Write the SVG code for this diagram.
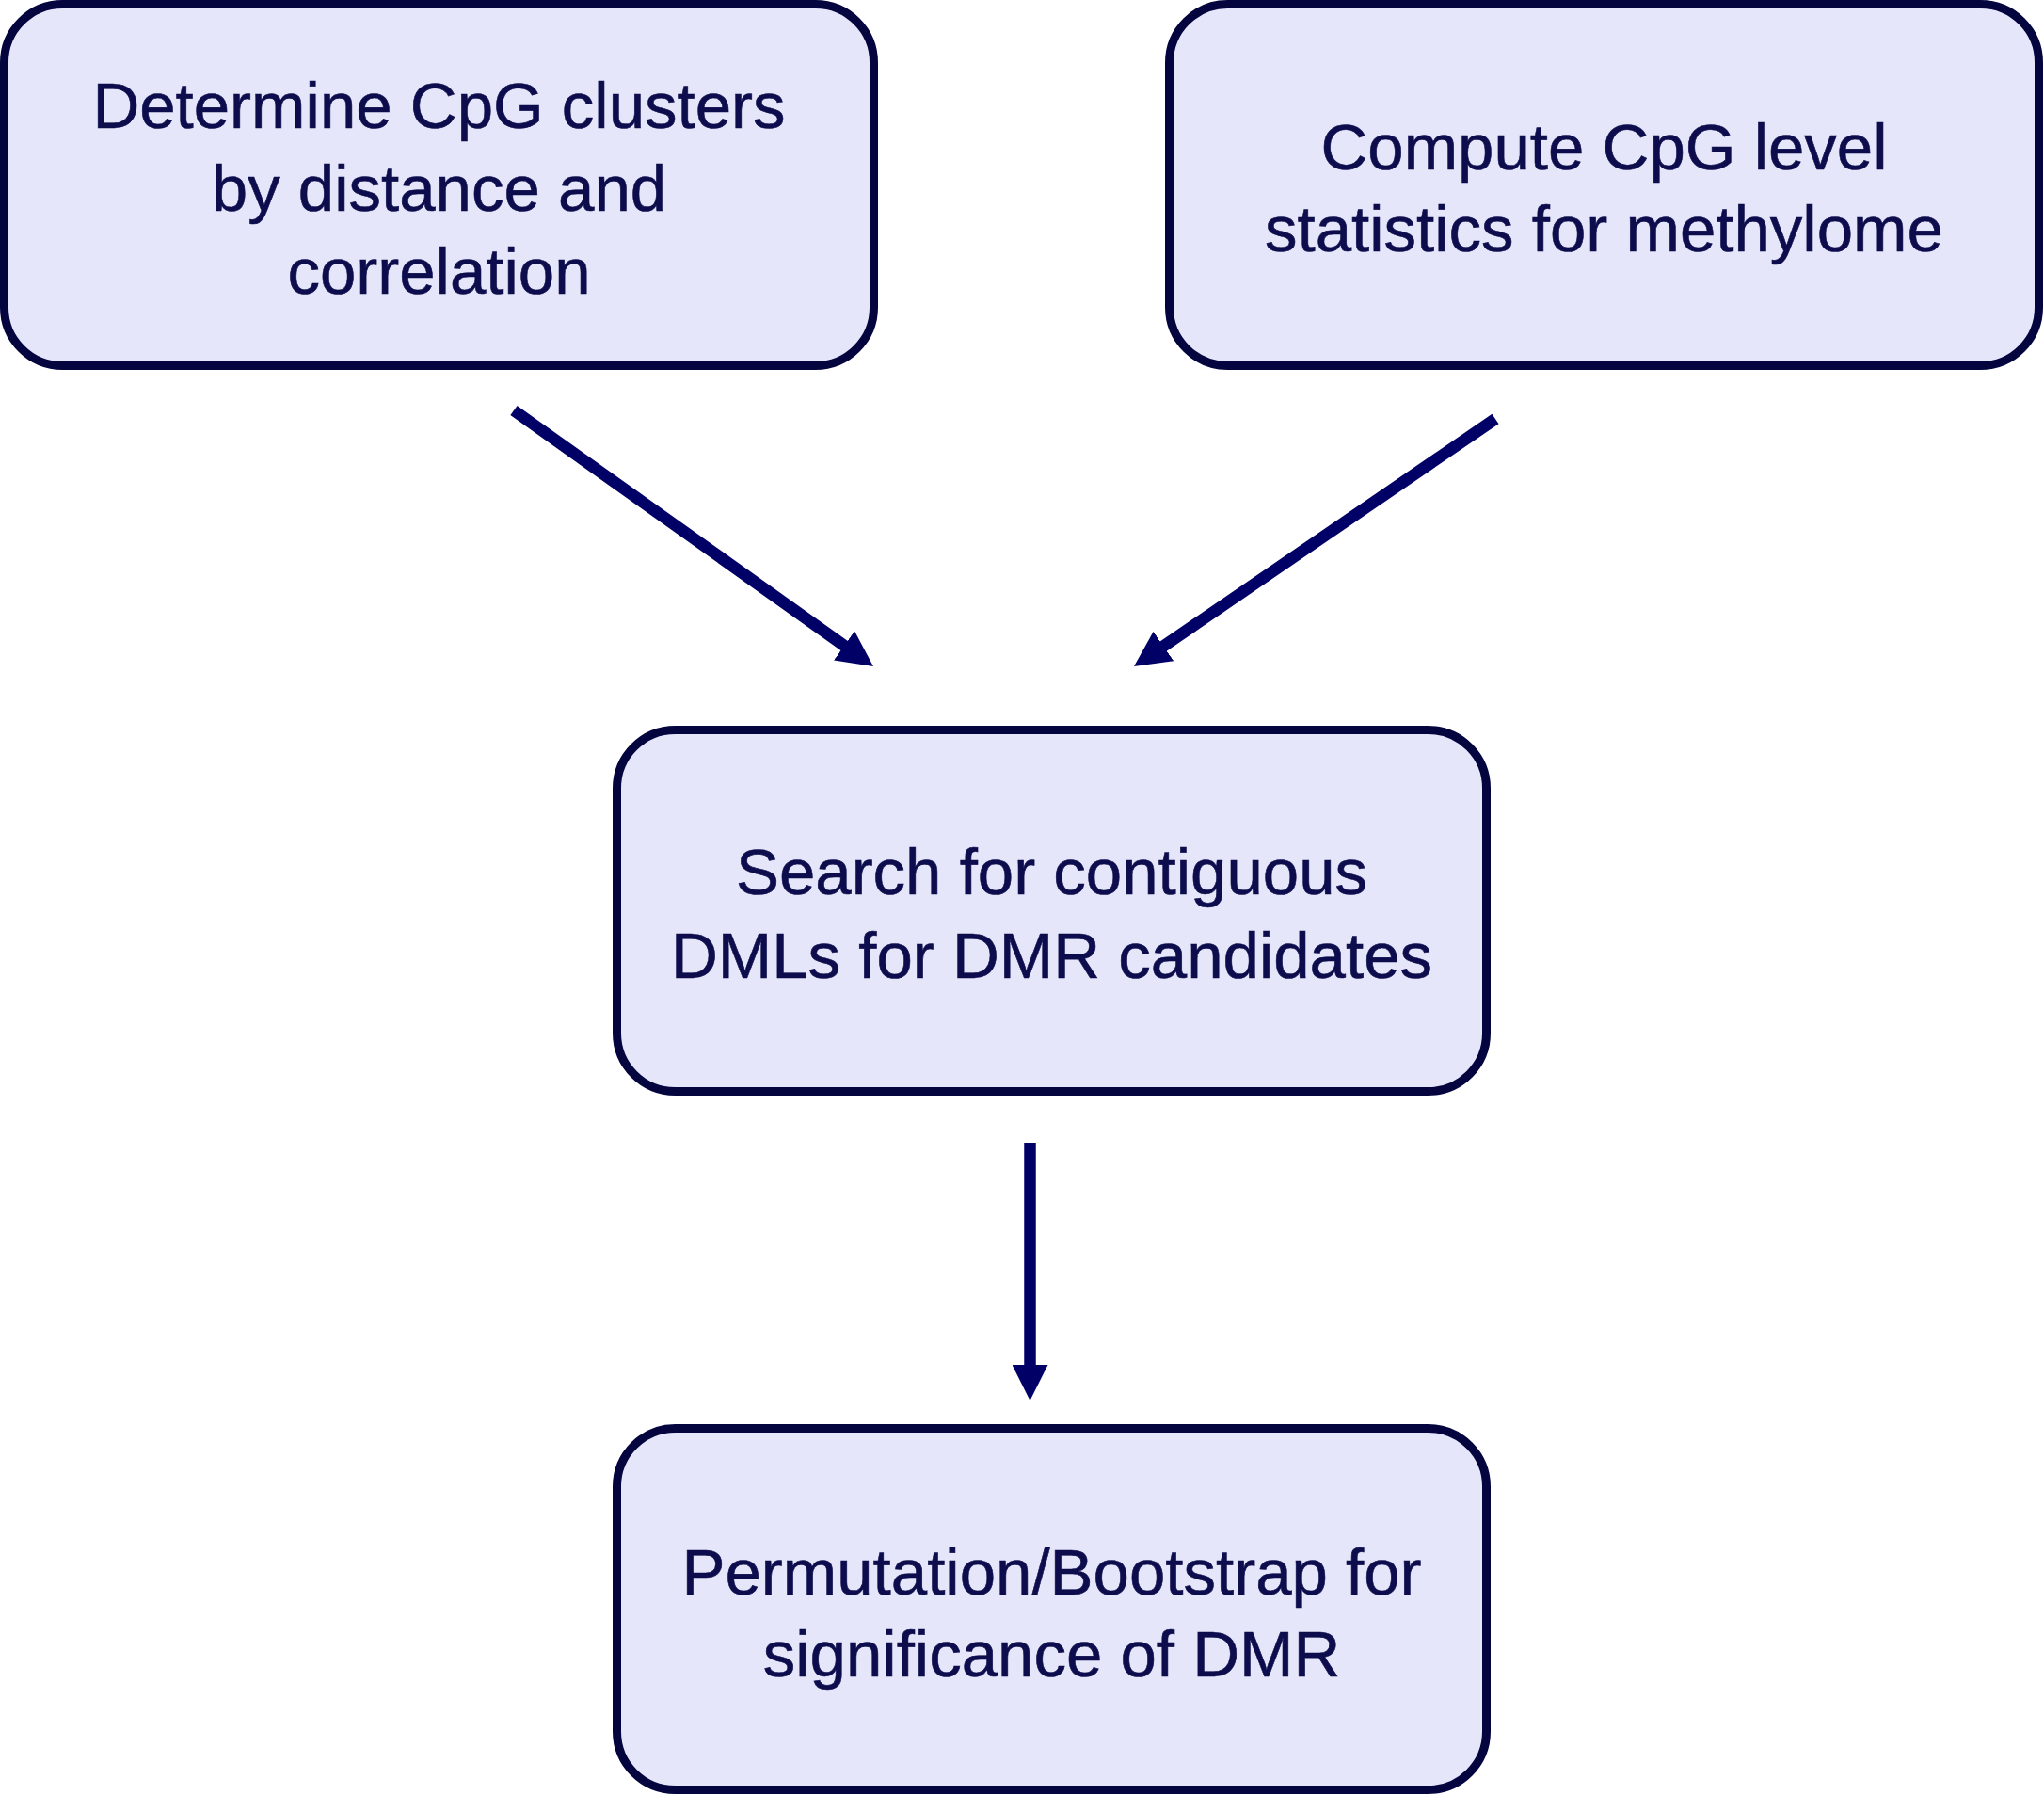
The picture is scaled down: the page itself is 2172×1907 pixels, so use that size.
<svg xmlns="http://www.w3.org/2000/svg" width="2172" height="1907" viewBox="0 0 2172 1907">
<style>
.box{fill:#E6E6FA;stroke:#04043F;stroke-width:9}
.lbl{font-family:"Liberation Sans",Arial,sans-serif;font-size:69px;fill:#0D0D4D;text-anchor:middle;stroke:#0D0D4D;stroke-width:0.6}
.conn{stroke:#000066;stroke-width:12.5;fill:none}
</style>
<defs>
<marker id="ah" markerUnits="userSpaceOnUse" viewBox="0 0 38 38" markerWidth="38" markerHeight="38" refX="2" refY="19" orient="auto">
<path d="M0,0 L38,19 L0,38 z" fill="#000066"/>
</marker>
</defs>
<rect width="2172" height="1907" fill="#FFFFFF"/>
<g id="connectors">
<line class="conn" x1="546" y1="436" x2="898.7" y2="687.1" marker-end="url(#ah)"/>
<line class="conn" x1="1589" y1="445" x2="1234.7" y2="687.7" marker-end="url(#ah)"/>
<line class="conn" x1="1094.5" y1="1214" x2="1094.5" y2="1452" marker-end="url(#ah)"/>
</g>
<g id="node-clusters">
<rect class="box" x="4.5" y="4.5" width="924" height="384" rx="62"/>
<text class="lbl" x="466.5" y="136">Determine CpG clusters</text>
<text class="lbl" x="466.5" y="224">by distance and</text>
<text class="lbl" x="466.5" y="312">correlation</text>
</g>
<g id="node-stats">
<rect class="box" x="1242.5" y="4.5" width="924" height="384" rx="62"/>
<text class="lbl" x="1704.5" y="180">Compute CpG level</text>
<text class="lbl" x="1704.5" y="267">statistics for methylome</text>
</g>
<g id="node-search">
<rect class="box" x="655.5" y="775.5" width="924" height="384" rx="62"/>
<text class="lbl" x="1117.5" y="950">Search for contiguous</text>
<text class="lbl" x="1117.5" y="1039">DMLs for DMR candidates</text>
</g>
<g id="node-permutation">
<rect class="box" x="655.5" y="1517.5" width="924" height="384" rx="62"/>
<text class="lbl" x="1117.5" y="1694">Permutation/Bootstrap for</text>
<text class="lbl" x="1117.5" y="1781">significance of DMR</text>
</g>
</svg>
